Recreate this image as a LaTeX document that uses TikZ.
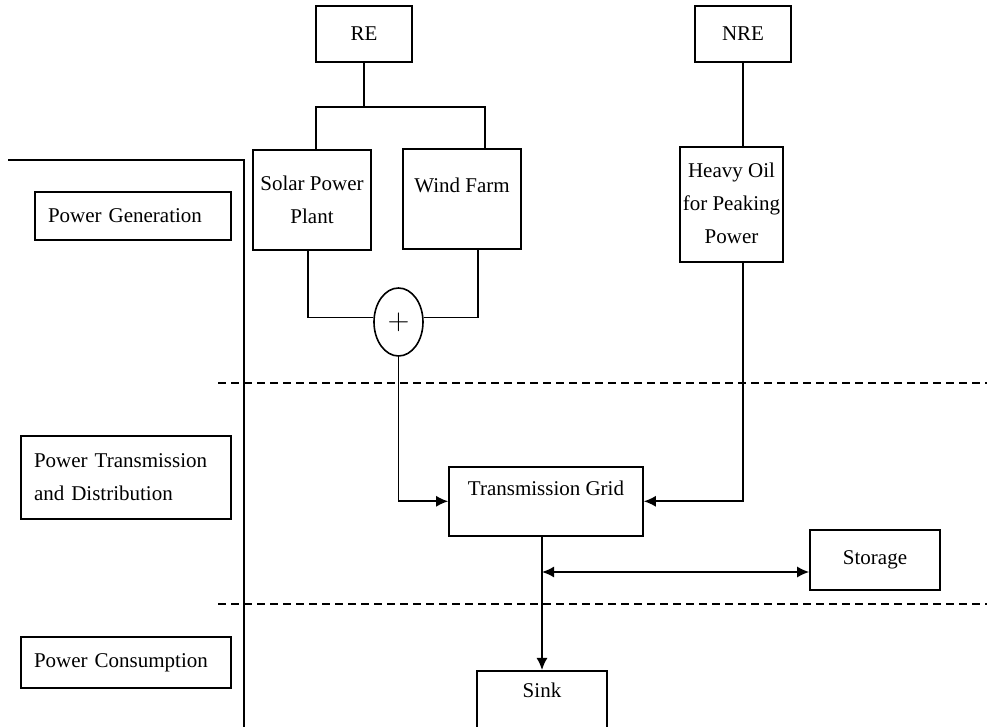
\documentclass[tikz,border=0pt]{standalone}
\usepackage{fontspec}
\setmainfont{Liberation Serif}
\usepackage{tikz}
\usetikzlibrary{arrows,arrows.meta,calc,positioning,shapes.geometric}

\begin{document}
\begin{tikzpicture}[
    x=0.5pt, y=-0.5pt,
    line width=0.8pt,
    every node/.style={font=\fontsize{10.5}{16.5}\selectfont},
    unit/.style={draw, rectangle, inner sep=0, align=center},
    stage/.style={draw, rectangle, inner xsep=6.5pt, inner ysep=0, align=left},
    sep/.style={dash pattern=on 4pt off 2.5pt},
    flow/.style={-{Latex[length=6pt, width=5.5pt]}}]
\useasboundingbox (0,0) rectangle (987,727);

% sources
\node[unit, minimum width=48pt, minimum height=28pt] (RE) at (364,34) {RE};
\node[unit, minimum width=48pt, minimum height=28pt] (NRE) at (743,34) {NRE};
\node[unit, minimum width=59pt, minimum height=50pt] (solar) at (312,200) {Solar Power\\Plant};
\node[unit, minimum width=59pt, text height=22pt, text depth=28pt, anchor=north] (wind) at (462,148) {Wind Farm};
\node[unit, minimum width=51.5pt, minimum height=57.5pt] (heavy) at (731.5,204.5) {\\[-10.5pt]Heavy Oil\\for Peaking\\Power};
\node[draw, ellipse, minimum width=24.5pt, minimum height=34pt, inner sep=0, font=\fontsize{14}{14}\selectfont] (plus) at (398.5,322) {$+$};

% grid and loads
\node[unit, minimum width=97pt, text height=14.5pt, text depth=20pt, anchor=north] (grid) at (546,466) {Transmission Grid};
\node[unit, minimum width=65pt, minimum height=30pt] (storage) at (875,560) {Storage};
\node[unit, minimum width=65pt, text height=13.5pt, text depth=40pt, anchor=north] (sink) at (542,670) {Sink};

% stages
\node[stage, text width=85pt, minimum height=24pt] (gen) at (133,216) {Power Generation};
\node[stage, text width=92pt, minimum height=41.5pt] (trans) at (126,477.5) {Power Transmission\\and Distribution};
\node[stage, text width=92pt, minimum height=25.5pt] (cons) at (126,662.5) {Power Consumption};

\draw (8,160) -| (244,740);
\draw[sep] (218,383) -- (987,383);
\draw[sep] (218,604) -- (987,604);

% connectors
\coordinate (split) at (364,107);
\draw (RE) -- (split);
\draw ([xshift=2pt]solar.north) |- (split) -| ([xshift=11.5pt]wind.north);
\draw ([xshift=-2pt]solar.south) |- (plus.170);
\draw ([xshift=8pt]wind.south) |- (plus.10);
\draw[flow] (plus) |- (grid.west);
\draw (NRE) -- (NRE |- heavy.north);
\draw[flow] ([xshift=5.75pt]heavy.south) |- (grid.east);
\draw[flow] (grid.south -| sink.north) -- (sink.north);
\coordinate (tap) at (542,572);
\draw[{Latex[length=6pt, width=5.5pt]}-{Latex[length=6pt, width=5.5pt]}] (tap) -- (tap -| storage.west);

\end{tikzpicture}
\end{document}
